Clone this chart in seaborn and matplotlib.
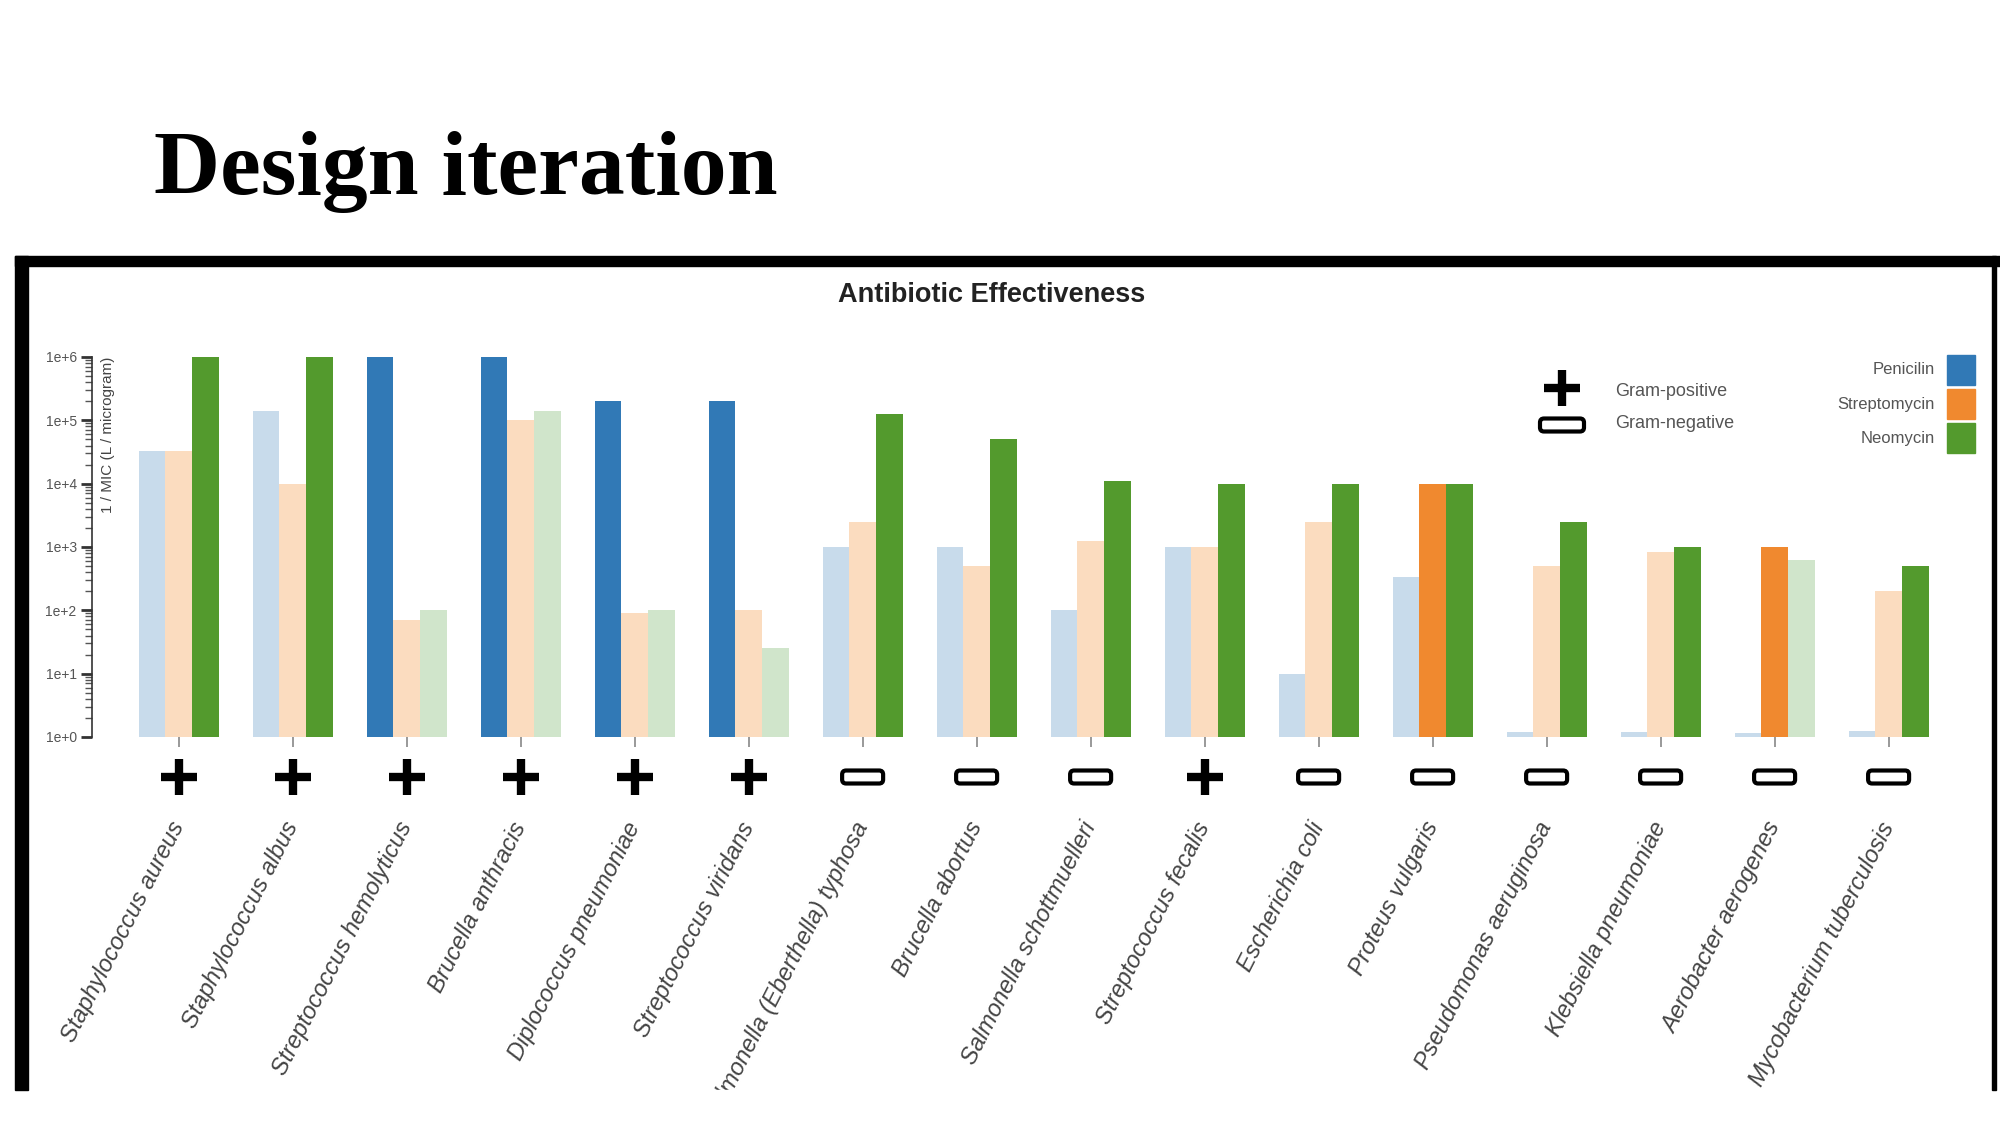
import numpy as np
import pandas as pd
import matplotlib
matplotlib.use('Agg')
import matplotlib.pyplot as plt
import matplotlib.ticker as mticker
from matplotlib.patches import Rectangle, FancyBboxPatch
from matplotlib.lines import Line2D
from matplotlib.transforms import ScaledTranslation
import seaborn as sns

# 1 / MIC values (log scale)
bacteria = [
    'Staphylococcus aureus', 'Staphylococcus albus', 'Streptococcus hemolyticus',
    'Brucella anthracis', 'Diplococcus pneumoniae', 'Streptococcus viridans',
    'Salmonella (Eberthella) typhosa', 'Brucella abortus', 'Salmonella schottmuelleri',
    'Streptococcus fecalis', 'Escherichia coli', 'Proteus vulgaris',
    'Pseudomonas aeruginosa', 'Klebsiella pneumoniae', 'Aerobacter aerogenes',
    'Mycobacterium tuberculosis',
]
penicillin = [33333, 142857, 1e6, 1e6, 2e5, 2e5, 1000, 1000, 100, 1000, 10, 333, 1.18, 1.18, 1.15, 1.25]
streptomycin = [33333, 10000, 71, 1e5, 91, 100, 2500, 500, 1250, 1000, 2500, 10000, 500, 833, 1000, 200]
neomycin = [1e6, 1e6, 100, 142857, 100, 25, 125000, 50000, 11111, 10000, 10000, 10000, 2500, 1000, 625, 500]
gram = ['+', '+', '+', '+', '+', '+', '-', '-', '-', '+', '-', '-', '-', '-', '-', '-']

antibiotics = ['Penicilin', 'Streptomycin', 'Neomycin']
dark = ['#3179b6', '#f0892f', '#539a2d']
light = ['#c8dbeb', '#fbdcbf', '#d0e5cb']

df = pd.DataFrame({
    'bacteria': bacteria * 3,
    'antibiotic': np.repeat(antibiotics, len(bacteria)),
    'value': penicillin + streptomycin + neomycin,
})
series = [penicillin, streptomycin, neomycin]

sns.set_theme(style='white')
plt.rcParams['font.family'] = ['Liberation Sans', 'DejaVu Sans']

W, H = 2000, 1125
fx = lambda px: px / W
fy = lambda py: 1 - py / H

fig = plt.figure(figsize=(20, 11.25), dpi=100)
fig.patch.set_facecolor('white')

ax = fig.add_axes([fx(92), fy(737), (1957 - 92) / W, (737 - 357) / H])
sns.barplot(data=df, x='bacteria', y='value', hue='antibiotic', order=bacteria,
            hue_order=antibiotics, palette=dark, width=0.7, linewidth=0,
            legend=False, ax=ax)
ax.set_yscale('log')

# highlight the most effective antibiotic for each bacterium
for hi, cont in enumerate(ax.containers):
    for bi, bar in enumerate(cont):
        best = max(s[bi] for s in series)
        bar.set_facecolor(dark[hi] if series[hi][bi] >= best else light[hi])
        bar.set_edgecolor('none')

ax.set_ylim(1, 1e6)
ax.set_xlim(-0.76, 15.6)
ax.set_xlabel('')
ax.set_ylabel('')
ax.set_facecolor('none')
for s in ['top', 'right', 'bottom']:
    ax.spines[s].set_visible(False)
ax.spines['left'].set_color('#333333')
ax.spines['left'].set_linewidth(1.2)

ax.yaxis.set_major_locator(mticker.LogLocator(base=10, numticks=10))
ax.yaxis.set_minor_locator(mticker.LogLocator(base=10, subs=np.arange(2, 10), numticks=100))
ax.yaxis.set_major_formatter(mticker.FuncFormatter(lambda v, p: f"1e+{int(round(np.log10(v)))}"))
ax.yaxis.set_minor_formatter(mticker.NullFormatter())
ax.tick_params(axis='y', which='major', left=True, length=8, width=2, color='#333333',
               labelsize=10, labelcolor='#555555', pad=3)
ax.tick_params(axis='y', which='minor', left=True, length=5, width=1, color='#555555')
ax.tick_params(axis='x', bottom=True, length=7, width=1.2, color='#888888', pad=55,
               labelsize=17, labelcolor='#444444')
for lab in ax.get_xticklabels():
    lab.set_rotation(63)
    lab.set_rotation_mode('anchor')
    lab.set_ha('right')
    lab.set_va('center')
    lab.set_fontstyle('italic')

# gram markers under each group
trans = ax.get_xaxis_transform()
gy = -(777 - 737) / (737 - 357)
for i, g in enumerate(gram):
    if g == '+':
        ax.plot(i, gy, marker='+', ms=26, mew=6, color='black', transform=trans, clip_on=False)
    else:
        ax.add_artist(FancyBboxPatch((-0.205, -0.065), 0.41, 0.13,
                                     boxstyle='round,pad=0,rounding_size=0.04',
                                     fc='white', ec='black', lw=3,
                                     transform=fig.dpi_scale_trans + ScaledTranslation(i, gy, trans),
                                     clip_on=False))

# y label
fig.text(fx(108), fy(357), '1 / MIC (L / microgram)', rotation=90, ha='center', va='top',
         fontsize=11, color='#444444')

# titles
fig.text(fx(154), fy(194), 'Design iteration', fontfamily='Liberation Serif',
         fontweight='bold', fontsize=66, ha='left', va='baseline', color='black')
fig.text(fx(992), fy(295), 'Antibiotic Effectiveness', ha='center', va='center',
         fontsize=19.5, fontweight='bold', color='#222222')

# gram legend
fig.add_artist(Line2D([fx(1562)], [fy(388)], marker='+', ms=26, mew=6, color='black',
                      transform=fig.transFigure))
fig.add_artist(FancyBboxPatch((-0.22, -0.065), 0.44, 0.13,
                              boxstyle='round,pad=0,rounding_size=0.04',
                              fc='white', ec='black', lw=3,
                              transform=fig.dpi_scale_trans + ScaledTranslation(fx(1562), fy(425), fig.transFigure)))
fig.text(fx(1615), fy(392), 'Gram-positive', ha='left', va='center', fontsize=13, color='#555555')
fig.text(fx(1615), fy(424), 'Gram-negative', ha='left', va='center', fontsize=13, color='#555555')

# antibiotic legend
for k, name in enumerate(antibiotics):
    top = 355 + 34 * k
    fig.add_artist(Rectangle((fx(1947), fy(top + 30)), 28 / W, 30 / H, color=dark[k],
                             transform=fig.transFigure))
    fig.text(fx(1935), fy(top + 15), name, ha='right', va='center', fontsize=12, color='#555555')

# slide frame around the pasted chart image; image is cut at the bottom
fig.add_artist(Rectangle((0, 0), 1, fy(1090), color='white', transform=fig.transFigure, zorder=50))
fig.add_artist(Rectangle((fx(15), fy(1090)), 13 / W, (1090 - 256) / H, color='black',
                         transform=fig.transFigure, zorder=60))
fig.add_artist(Rectangle((fx(15), fy(266)), (W - 15) / W, 10 / H, color='black',
                         transform=fig.transFigure, zorder=60))
fig.add_artist(Rectangle((fx(1992), fy(1090)), 4 / W, (1090 - 256) / H, color='black',
                         transform=fig.transFigure, zorder=60))

fig.savefig('out.png', dpi=100)
